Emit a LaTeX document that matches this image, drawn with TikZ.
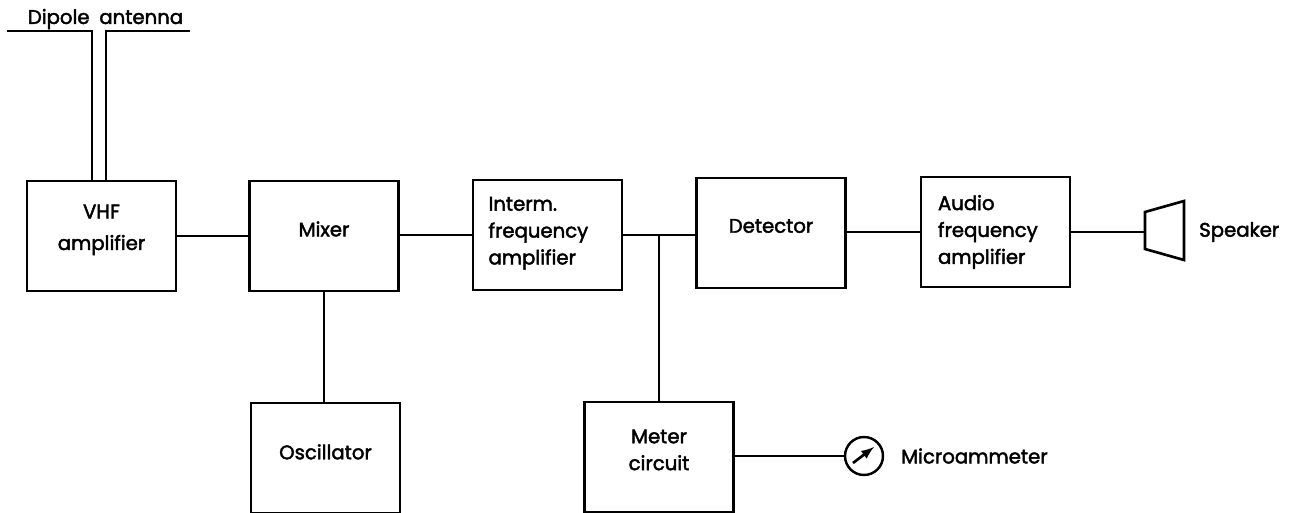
\documentclass[tikz,border=0pt]{standalone}
\usepackage{fontspec}
\setmainfont{Poppins}[RawFeature={embolden=2.2}]

\tikzset{
	blockbox/.style={draw,line width=1.5pt,minimum width=2.98cm,minimum height=2.2cm},
	wire/.style={line width=1.5pt},
	caption/.style={font=\fontsize{11.2}{15.3}\selectfont},
}

\begin{document}
\begin{tikzpicture}[x=0.02cm,y=-0.02cm]

	\useasboundingbox (0,0) rectangle (1294,513);

	% blocks
	\node[blockbox,label={[caption,align=center,font=\fontsize{11.2}{18}\selectfont,yshift=3.5pt]center:VHF\\amplifier}] (vhf) at (101.5,236) {};
	\node[blockbox,label={[caption,yshift=4pt]center:Mixer}] (mixer) at (324,236) {};
	\node[blockbox,label={[caption,align=left,text width=2.36cm,yshift=1pt]center:Interm.\\frequency\\amplifier}] (interm) at (547.5,235) {};
	\node[blockbox,label={[caption,yshift=4pt]center:Detector}] (detector) at (771,233) {};
	\node[blockbox,label={[caption,align=left,text width=2.3cm]center:Audio\\frequency\\amplifier}] (audio) at (995.5,232) {};
	\node[blockbox,label={[caption,yshift=3.5pt]center:Oscillator}] (oscillator) at (325.5,458) {};
	\node[blockbox,label={[caption,align=center,yshift=4pt]center:Meter\\circuit}] (meter) at (659,457) {};

	% outputs
	\node[draw,circle,line width=1.4pt,minimum size=0.76cm,inner sep=0pt] (ammeter) at (864,456) {};
	\node[caption,right] (ammeterlabel) at (895,456) {Microammeter};
	\node[caption,right] (speakerlabel) at (1193,232) {Speaker};
	\coordinate (speaker) at (1145,232);
	\draw[wire] (1145,212) -- (1184,201) -- (1184,260) -- (1145,249) -- cycle;
	\draw[wire,-{latex[scale=1.3]}] (ammeter.center) ++(-11,7) -- ++(21,-16);

	% antenna
	\node[caption] (dipolelabel) at (105.5,19) {Dipole\hspace{0.5em}antenna};
	\coordinate (dipoleleft) at (7,31);
	\coordinate (dipoleright) at (190,31);
	\draw[wire] (dipoleleft) -- (92,31) -- (92,0 |- vhf.north);
	\draw[wire] (dipoleright) -- (106,31) -- (106,0 |- vhf.north);

	% connections
	\draw[wire] (vhf.east) -- (mixer.west);
	\draw[wire] (mixer.east |- interm.west) -- (interm.west);
	\draw[wire] (interm.east) -- (detector.west |- interm.east);
	\draw[wire] (detector.east |- audio.west) -- (audio.west);
	\draw[wire] (audio.east) -- (speaker);
	\draw[wire] (mixer.south) -- (oscillator.north -| mixer.south);
	\draw[wire] (meter.north) -- (meter.north |- interm.east);
	\draw[wire] (meter.east |- ammeter.west) -- (ammeter.west);

\end{tikzpicture}
\end{document}
